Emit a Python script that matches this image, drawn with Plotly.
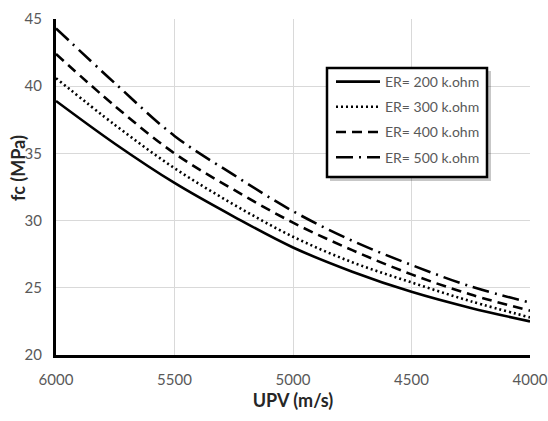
import plotly.graph_objects as go

# Ultrasonic pulse velocity (m/s) and predicted compressive strength (MPa)
upv = [6000, 5750, 5500, 5250, 5000, 4750, 4500, 4250, 4000]
fc_er200 = [38.9, 35.7, 32.8, 30.3, 28.0, 26.2, 24.7, 23.5, 22.5]
fc_er300 = [40.6, 37.1, 33.9, 31.2, 28.8, 26.9, 25.4, 24.0, 22.8]
fc_er400 = [42.4, 38.5, 35.0, 32.3, 29.85, 27.8, 26.0, 24.5, 23.3]
fc_er500 = [44.3, 40.2, 36.3, 33.4, 30.7, 28.5, 26.7, 25.1, 23.9]

series_names = ["ER= 200 k.ohm", "ER= 300 k.ohm", "ER= 400 k.ohm", "ER= 500 k.ohm"]
x_ticks = [6000, 5500, 5000, 4500, 4000]
y_ticks = [20, 25, 30, 35, 40, 45]

series_values = [fc_er200, fc_er300, fc_er400, fc_er500]
dash_styles = ["solid", "2px,3px", "10px,6px", "17px,6px,2px,6px"]

FONT = "Lato, 'Open Sans', sans-serif"
ML, MR, MT, MB = 56, 18, 19, 66
W, H = 548, 421
PW, PH = W - ML - MR, H - MT - MB


def px_x(p):
    return (p - ML) / PW


def px_y(p):
    return (H - MB - p) / PH


fig = go.Figure()
for i, (name, vals, dash) in enumerate(zip(series_names, series_values, dash_styles)):
    fig.add_trace(go.Scatter(
        x=upv, y=vals, name=name, mode="lines",
        line=dict(color="black", width=2.6, dash=dash, shape="spline", smoothing=1.0),
        legendgroup=str(i),
    ))

# legend frame: soft drop shadow, then white box with a heavy black border
fig.add_shape(
    type="rect", xref="paper", yref="paper", layer="above",
    x0=px_x(330), x1=px_x(491), y0=px_y(181), y1=px_y(71),
    fillcolor="rgba(0,0,0,0.22)", line=dict(width=0),
)
fig.add_shape(
    type="rect", xref="paper", yref="paper", layer="above",
    x0=px_x(327), x1=px_x(487), y0=px_y(177), y1=px_y(68),
    fillcolor="white", line=dict(color="black", width=2.5),
)

# vertical axis title
fig.add_annotation(
    text="<b>fc (MPa)</b>", textangle=-90, showarrow=False,
    xref="paper", yref="paper", x=px_x(18), y=px_y(168),
    xanchor="center", yanchor="middle",
    font=dict(family=FONT, size=18, color="#262626"),
)

fig.update_layout(
    width=W, height=H,
    margin=dict(l=ML, r=MR, t=MT, b=MB),
    paper_bgcolor="white", plot_bgcolor="white",
    font=dict(family=FONT, size=15, color="#595959"),
    showlegend=True,
    legend=dict(
        x=px_x(331), y=px_y(66), xanchor="left", yanchor="top",
        bgcolor="rgba(0,0,0,0)", borderwidth=0,
        font=dict(family=FONT, size=14, color="#595959"),
        traceorder="grouped", tracegroupgap=4,
        itemwidth=44,
    ),
    xaxis=dict(
        range=[6000, 4000], tickvals=x_ticks, automargin=False,
        showgrid=True, gridcolor="#d9d9d9", gridwidth=1,
        showline=True, linecolor="black", linewidth=3,
        zeroline=False, ticks="outside", ticklen=9, tickcolor="rgba(0,0,0,0)",
        tickfont=dict(family=FONT, size=15, color="#595959"),
        title=dict(text="<b>UPV (m/s)</b>", font=dict(family=FONT, size=18, color="#262626"), standoff=8),
    ),
    yaxis=dict(
        range=[20, 45], tickvals=y_ticks, automargin=False,
        showgrid=True, gridcolor="#d9d9d9", gridwidth=1,
        showline=True, linecolor="black", linewidth=3,
        zeroline=False, ticks="outside", ticklen=8, tickcolor="rgba(0,0,0,0)",
        tickfont=dict(family=FONT, size=15, color="#595959"),
    ),
)

fig.write_html("out.html")
